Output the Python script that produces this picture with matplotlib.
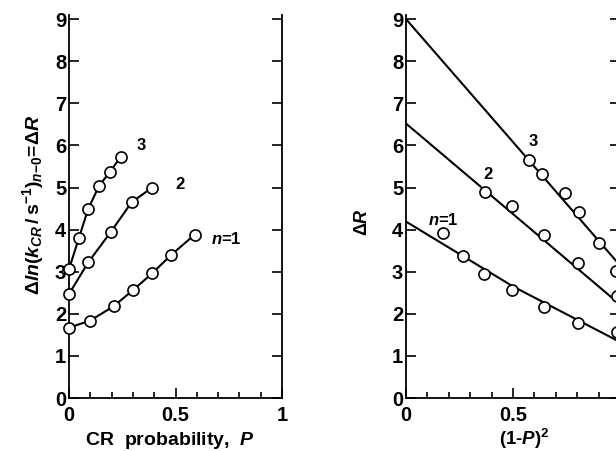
import numpy as np
import matplotlib
matplotlib.use('Agg')
import matplotlib.pyplot as plt
from matplotlib.ticker import MultipleLocator, FuncFormatter

plt.rcParams['font.family'] = ['Liberation Sans', 'DejaVu Sans']
plt.rcParams['font.weight'] = 'bold'
plt.rcParams['axes.labelweight'] = 'bold'
plt.rcParams['mathtext.fontset'] = 'custom'
plt.rcParams['mathtext.rm'] = 'Liberation Sans:bold'
plt.rcParams['mathtext.it'] = 'Liberation Sans:italic:bold'
plt.rcParams['mathtext.bf'] = 'Liberation Sans:bold'

# left panel: dR vs CR probability P
p1 = [0.0, 0.10, 0.21, 0.30, 0.39, 0.48, 0.59]
r1 = [1.67, 1.84, 2.18, 2.56, 2.96, 3.40, 3.88]
p2 = [0.0, 0.09, 0.197, 0.294, 0.391]
r2 = [2.47, 3.22, 3.95, 4.65, 5.00]
p3 = [0.0, 0.047, 0.09, 0.141, 0.192, 0.243]
r3 = [3.06, 3.81, 4.49, 5.04, 5.37, 5.73]

# right panel: dR vs (1-P)^2
q1 = [0.174, 0.268, 0.366, 0.497, 0.646, 0.805, 0.985]
s1 = [3.91, 3.37, 2.95, 2.57, 2.17, 1.79, 1.57]
q2 = [0.369, 0.494, 0.646, 0.805, 0.985]
s2 = [4.90, 4.57, 3.87, 3.20, 2.43]
q3 = [0.573, 0.634, 0.743, 0.807, 0.902, 0.981]
s3 = [5.65, 5.31, 4.86, 4.43, 3.67, 3.02]

# fitted lines on the right panel
fit_x = [0.0, 0.5, 1.0]
fit1 = [4.19, 2.65, 1.33]
fit2 = [6.52, 4.37, 2.22]
fit3 = [9.00, 6.08, 3.15]

fig = plt.figure(figsize=(6.16, 4.51), dpi=100)
axL = fig.add_axes([69/616, 1-398/451, 213/616, 383.1/451])
axR = fig.add_axes([406/616, 1-398/451, 214/616, 383.1/451])

mk = dict(marker='o', ms=8, mfc='white', mec='black', mew=1.2, color='black', lw=1.5)

for x, y in [(p1, r1), (p2, r2), (p3, r3)]:
    axL.plot(x, y, clip_on=False, zorder=3, **mk)

for fy in [fit1, fit2, fit3]:
    axR.plot(fit_x, fy, color='black', lw=1.5, zorder=2)
for x, y in [(q1, s1), (q2, s2), (q3, s3)]:
    axR.plot(x, y, ls='none', clip_on=False, zorder=3, marker='o', ms=8,
             mfc='white', mec='black', mew=1.2)

axL.text(0.34, 6.0, '3', fontsize=12, ha='center', va='center')
axL.text(0.52, 5.08, '2', fontsize=12, ha='center', va='center')
axL.text(0.74, 3.77, r'$n$=1', fontsize=12, ha='center', va='center')
axR.text(0.595, 6.09, '3', fontsize=12, ha='center', va='center')
axR.text(0.385, 5.30, '2', fontsize=12, ha='center', va='center')
axR.text(0.174, 4.23, r'$n$=1', fontsize=12, ha='center', va='center')

for ax in [axL, axR]:
    ax.set_xlim(0, 1)
    ax.set_ylim(0, 9.1)
    ax.spines['top'].set_visible(False)
    for s in ['left', 'right', 'bottom']:
        ax.spines[s].set_linewidth(1.3)
    ax.xaxis.set_major_locator(MultipleLocator(0.5))
    ax.xaxis.set_minor_locator(MultipleLocator(0.1))
    ax.yaxis.set_major_locator(MultipleLocator(1))
    ax.xaxis.set_major_formatter(FuncFormatter(lambda v, pos: f'{v:g}'))
    ax.tick_params(which='both', direction='in', top=False, right=True, width=1.2)
    ax.tick_params(which='major', length=7, labelsize=14.5)
    ax.tick_params(which='minor', length=4)
    ax.tick_params(axis='y', pad=2)
    ax.tick_params(axis='x', pad=6)

axL.set_xlabel(r'CR  probability,  $P$', fontsize=14)
axL.xaxis.set_label_coords(0.476, -0.110)
axL.xaxis.label.set_va('center')
axL.set_ylabel(r'$\Delta \mathit{ln}(\mathit{k}_{\mathit{CR}}\,/\,\mathrm{s}^{-1})_{\mathit{n}\mathrm{-0}}\!=\!\Delta \mathit{R}$',
               fontsize=14)
axL.yaxis.set_label_coords(-0.169, 0.506)
axL.yaxis.label.set_va('center')

axR.set_xlabel(r'(1-$P$)$^2$', fontsize=13.5)
axR.xaxis.set_label_coords(0.551, -0.108)
axR.xaxis.label.set_va('center')
axR.set_ylabel(r'$\Delta \mathit{R}$', fontsize=13)
axR.yaxis.set_label_coords(-0.201, 0.459)
axR.yaxis.label.set_va('center')

fig.savefig('out.png', dpi=100)
